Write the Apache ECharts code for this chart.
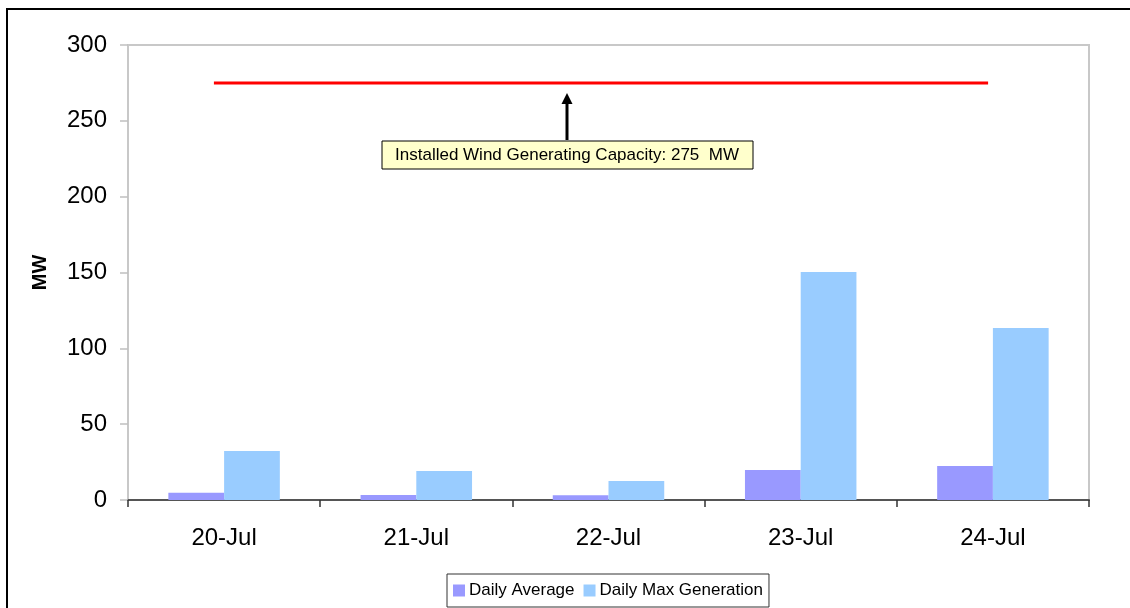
<!DOCTYPE html>
<html>
<head>
<meta charset="utf-8">
<script src="https://cdn.jsdelivr.net/npm/echarts@6/dist/echarts.min.js"></script>
<style>
html,body{margin:0;padding:0;background:#fff;}
#c{width:1130px;height:608px;}
</style>
</head>
<body>
<div id="c"></div>
<script>
var categories = ['20-Jul', '21-Jul', '22-Jul', '23-Jul', '24-Jul'];
var dailyAverage = [4.7, 3.3, 3.2, 19.8, 22.4];
var dailyMax = [32.3, 19.1, 12.5, 150.3, 113.4];
var capacityValue = 275;
var capacityLineX = [0.447, 4.475];
var yTicks = { min: 0, max: 300, interval: 50 };
var annotationText = 'Installed Wind Generating Capacity: 275  MW';

var FONT = '"Liberation Sans", Arial, sans-serif';
var chart = echarts.init(document.getElementById('c'), null, { renderer: 'canvas' });

var option = {
  animation: false,
  backgroundColor: '#ffffff',
  textStyle: { fontFamily: FONT, color: '#000' },
  grid: {
    left: 128, right: 41, top: 45, bottom: 108,
    show: true, borderColor: '#c8c8c8', borderWidth: 2, backgroundColor: 'transparent'
  },
  legend: {
    left: 447, top: 574,
    padding: [8, 6, 8, 6],
    itemGap: 9,
    itemWidth: 12, itemHeight: 12,
    borderColor: '#333', borderWidth: 1,
    icon: 'rect',
    textStyle: { fontFamily: FONT, fontSize: 17, color: '#000', padding: [0, 0, 0, -1] },
    data: ['Daily Average', 'Daily Max Generation']
  },
  xAxis: [{
    type: 'category',
    data: categories,
    boundaryGap: true,
    axisLine: { lineStyle: { color: '#555', width: 2 } },
    axisTick: { show: true, length: 7, lineStyle: { color: '#333', width: 1.5 } },
    axisLabel: { fontFamily: FONT, fontSize: 24, color: '#000', margin: 26 },
    splitLine: { show: false }
  }, {
    type: 'value', min: 0, max: 5, show: false
  }],
  yAxis: {
    type: 'value',
    min: yTicks.min, max: yTicks.max, interval: yTicks.interval,
    name: 'MW',
    nameLocation: 'middle',
    nameGap: 78,
    nameTextStyle: { fontFamily: FONT, fontSize: 20, fontWeight: 'bold', color: '#000' },
    axisLine: { show: true, lineStyle: { color: '#c8c8c8', width: 2 } },
    axisTick: { show: true, length: 8, lineStyle: { color: '#c0c0c0', width: 1.5 } },
    axisLabel: { fontFamily: FONT, fontSize: 24, color: '#000', margin: 21 },
    splitLine: { show: false }
  },
  series: [{
    name: 'Daily Average',
    type: 'bar',
    data: dailyAverage,
    barGap: '0%',
    barCategoryGap: '42%',
    itemStyle: { color: '#9999ff' }
  }, {
    name: 'Daily Max Generation',
    type: 'bar',
    data: dailyMax,
    barGap: '0%',
    barCategoryGap: '42%',
    itemStyle: { color: '#99ccff' }
  }, {
    name: 'Capacity',
    type: 'line',
    xAxisIndex: 1,
    data: capacityLineX.map(function (x) { return [x, capacityValue]; }),
    symbol: 'none',
    lineStyle: { color: '#ff0000', width: 3 },
    z: 5
  }],
  graphic: [{
    type: 'polyline',
    shape: { points: [[7, 620], [7, 9], [1140, 9]] },
    style: { stroke: '#000', lineWidth: 2, fill: null },
    silent: true
  }, {
    type: 'line',
    shape: { x1: 567, y1: 140, x2: 567, y2: 102 },
    style: { stroke: '#000', lineWidth: 3 },
    z: 10
  }, {
    type: 'polygon',
    shape: { points: [[567, 93], [561.5, 104], [572.5, 104]] },
    style: { fill: '#000' },
    z: 10
  }, {
    type: 'rect',
    shape: { x: 382, y: 141, width: 371, height: 28 },
    style: { fill: '#ffffcc', stroke: '#000', lineWidth: 1 },
    z: 10
  }, {
    type: 'text',
    x: 567, y: 155,
    style: {
      text: annotationText,
      font: '17px ' + FONT,
      fill: '#000',
      align: 'center',
      verticalAlign: 'middle'
    },
    z: 11
  }]
};
chart.setOption(option);
</script>
</body>
</html>
